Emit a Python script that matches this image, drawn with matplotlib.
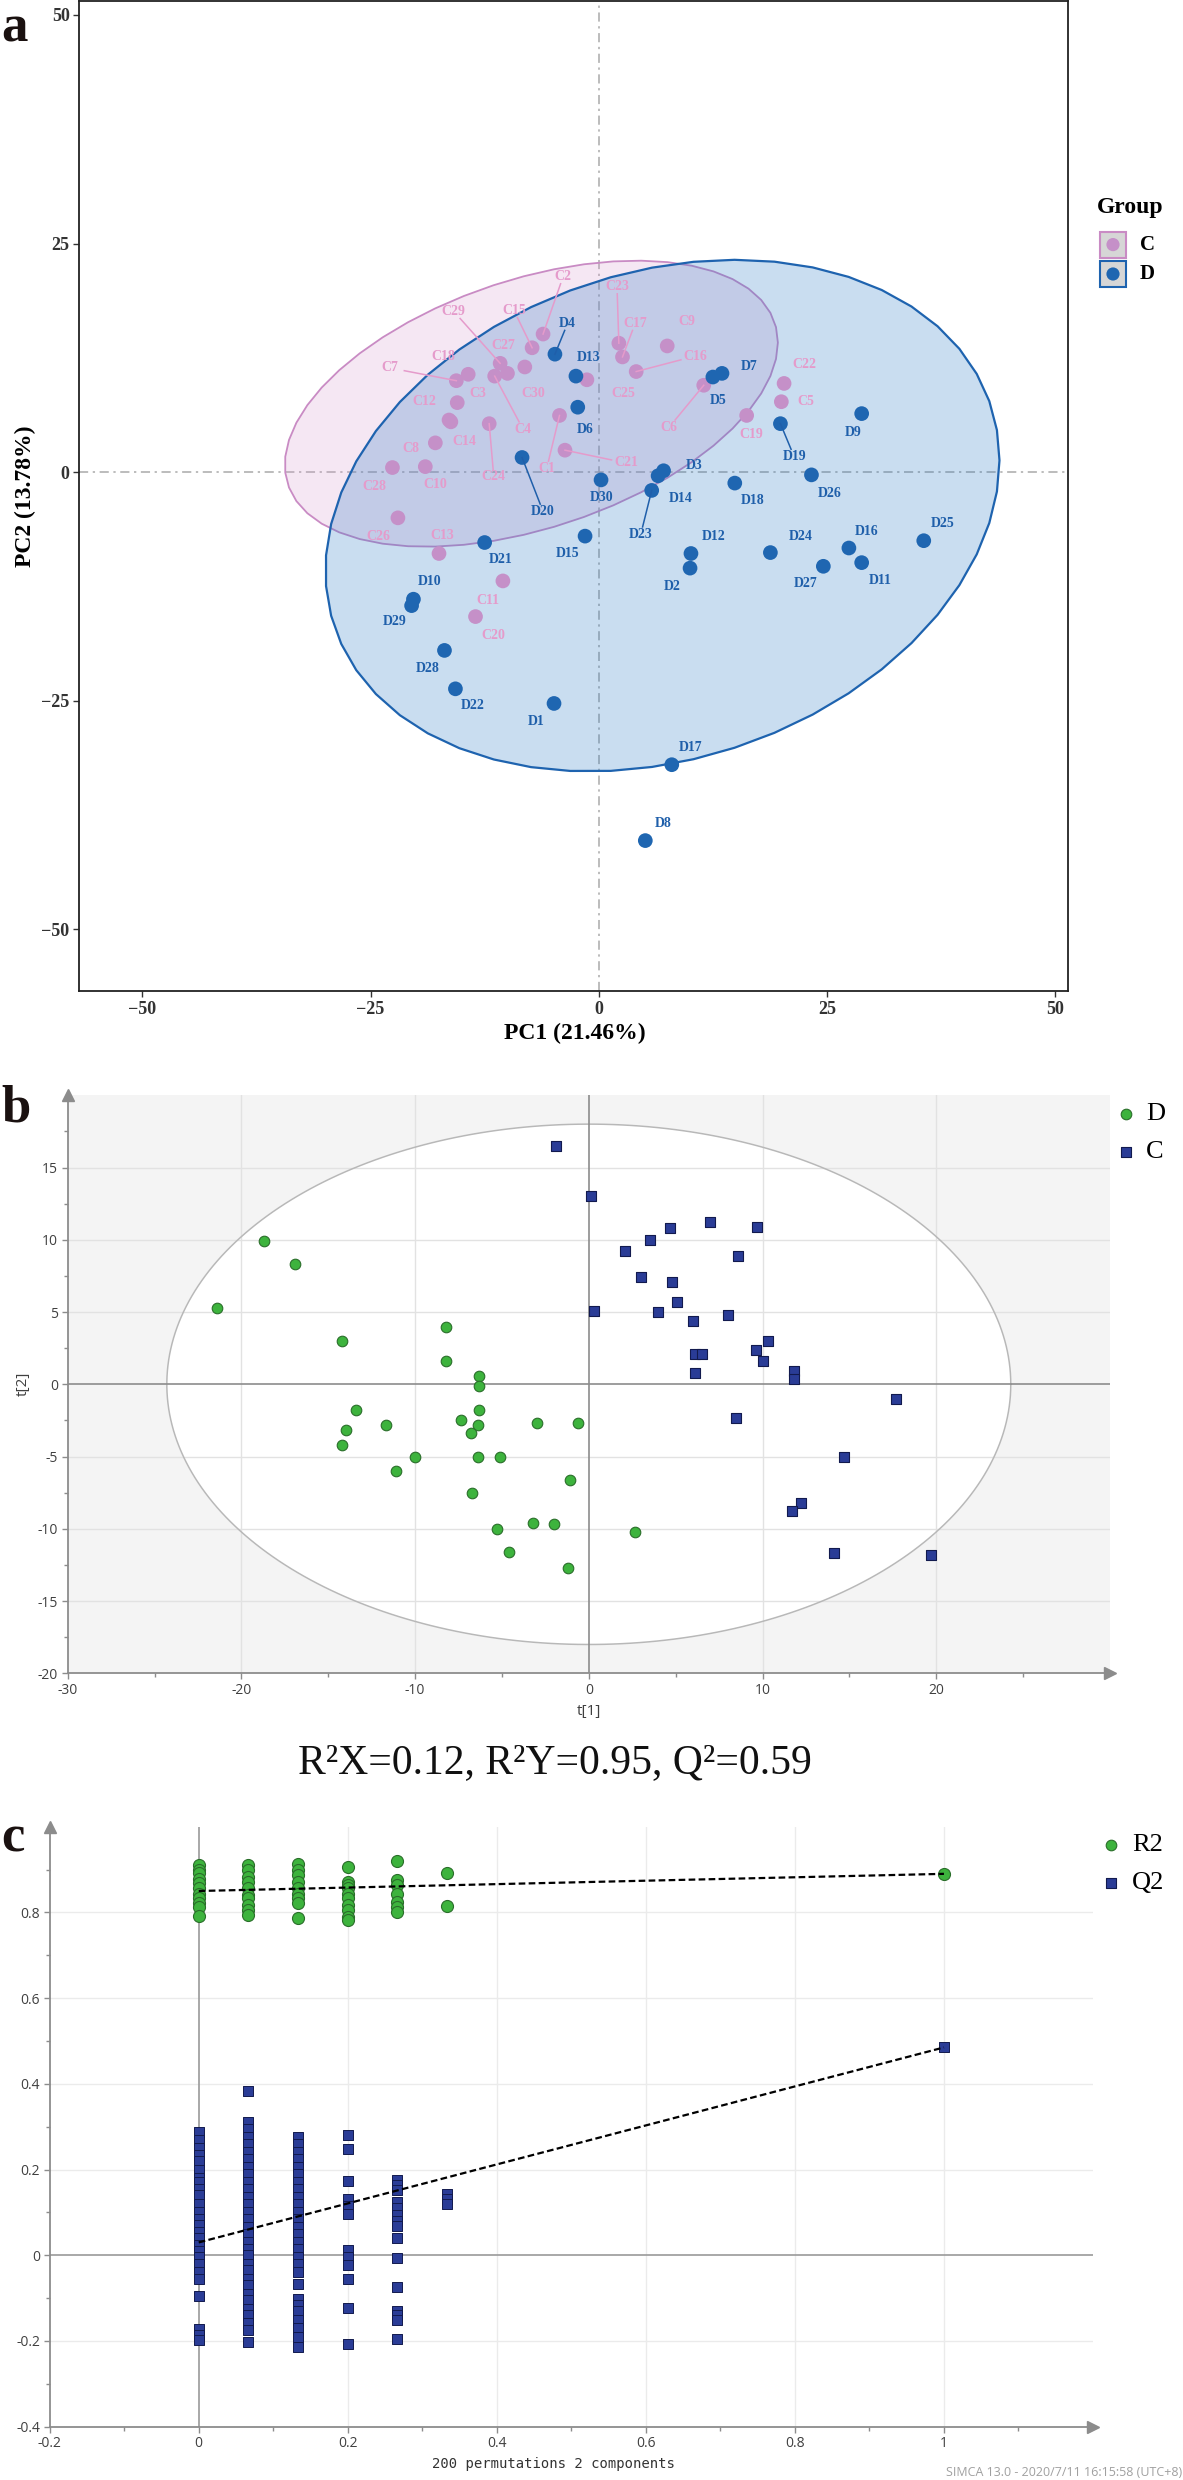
import numpy as np
import matplotlib
matplotlib.use("Agg")
import matplotlib.pyplot as plt
from matplotlib.patches import Polygon, Rectangle
from matplotlib.colors import to_rgba

W, H = 1183, 2480
SERIF = "Liberation Serif"
SANS = "Open Sans"
plt.rcParams["font.family"] = [SERIF, "DejaVu Sans"]

####################################################
# panel a : PCA scores (PC1, PC2) with sample names
c_names = ["C%d" % i for i in range(1, 31)]
c_pc1 = [-4.3, -6.1, -15.5, -11.4, 20.0, 11.5, -15.6, -17.9, 7.5, -19.0,
         -10.5, -16.4, -17.5, -16.2, -7.3, 4.1, 2.6, -14.3, 16.2, -13.5,
         -3.7, 20.3, 2.2, -12.0, -1.3, -22.0, -10.0, -22.6, -10.8, -8.1]
c_pc2 = [6.2, 15.1, 7.6, 10.5, 7.7, 9.5, 10.0, 3.2, 13.8, 0.6,
         -11.9, 5.7, -8.9, 5.5, 13.6, 11.0, 12.6, 10.7, 6.2, -15.8,
         2.4, 9.7, 14.1, 5.3, 10.1, -5.0, 10.8, 0.5, 11.9, 11.5]

d_names = ["D%d" % i for i in range(1, 31)]
d_pc1 = [-4.9, 10.0, 7.1, -4.8, 12.5, -2.3, 13.5, 5.1, 28.8, -20.3,
         28.8, 10.1, -2.5, 6.5, -1.5, 27.4, 8.0, 14.9, 19.9, -8.4,
         -12.5, -15.7, 5.8, 18.8, 35.6, 23.3, 24.6, -16.9, -20.5, 0.25]
d_pc2 = [-25.3, -10.5, 0.15, 12.9, 10.4, 7.1, 10.8, -40.3, 6.4, -13.9,
         -9.9, -8.9, 10.5, -0.4, -7.0, -8.3, -32.0, -1.2, 5.3, 1.6,
         -7.7, -23.7, -2.0, -8.8, -7.5, -0.3, -10.3, -19.5, -14.6, -0.85]

# where the repelled text labels sit (layout only)
c_lab_x = [-5.7, -3.9, -13.2, -8.3, 22.7, 7.7, -22.9, -20.6, 9.7, -17.9,
           -12.1, -19.1, -17.1, -14.7, -9.3, 10.6, 4.0, -17.0, 16.7, -11.6,
           3.0, 22.5, 2.0, -11.5, 2.7, -24.1, -10.5, -24.6, -15.9, -7.2]
c_lab_y = [0.4, 21.4, 8.6, 4.7, 7.7, 4.9, 11.4, 2.6, 16.5, -1.4,
           -14.0, 7.7, -6.9, 3.4, 17.7, 12.7, 16.3, 12.6, 4.1, -17.9,
           1.0, 11.8, 20.3, -0.5, 8.6, -7.0, 13.8, -1.6, 17.6, 8.6]
d_lab_x = [-6.9, 8.1, 10.4, -3.4, 13.1, -1.5, 16.5, 7.1, 27.9, -18.5,
           30.8, 12.6, -1.1, 9.0, -3.4, 29.3, 10.1, 16.9, 21.4, -6.1,
           -10.7, -13.8, 4.6, 22.1, 37.7, 25.3, 22.7, -18.7, -22.4, 0.3]
d_lab_y = [-27.3, -12.5, 0.7, 16.3, 7.8, 4.7, 11.6, -38.4, 4.3, -12.0,
           -11.9, -7.0, 12.5, -2.9, -8.9, -6.5, -30.1, -3.1, 1.7, -4.3,
           -9.6, -25.5, -6.8, -7.0, -5.6, -2.3, -12.2, -21.5, -16.3, -2.8]
with_segment = ["C1", "C2", "C4", "C6", "C7", "C15", "C16", "C17", "C21", "C23",
                "C24", "C29", "D4", "D19", "D20", "D23"]

####################################################
# panel b : OPLS-DA scores t[1], t[2]
d_t1 = [-18.7, -16.9, -21.4, -14.2, -8.2, -8.2, -6.3, -6.3, -13.4, -14.0,
        -14.2, -11.7, -6.35, -7.35, -6.4, -6.8, -3.0, -0.6, -10.0, -6.4,
        -5.1, -11.1, -1.1, -6.7, -5.3, -3.2, -2.0, 2.65, -4.6, -1.2]
d_t2 = [9.9, 8.3, 5.3, 3.0, 4.0, 1.6, 0.54, -0.13, -1.75, -3.15,
        -4.2, -2.8, -1.75, -2.5, -2.8, -3.4, -2.7, -2.7, -5.0, -5.0,
        -5.0, -6.0, -6.65, -7.5, -10.0, -9.6, -9.7, -10.2, -11.6, -12.7]
c_t1 = [-1.9, 0.1, 7.0, 4.7, 9.7, 3.5, 2.1, 8.6, 3.0, 4.8,
        0.3, 4.0, 5.1, 8.0, 6.0, 6.1, 6.5, 9.6, 10.3, 10.0,
        6.1, 11.8, 11.8, 17.7, 8.5, 14.7, 12.2, 11.7, 14.1, 19.7]
c_t2 = [16.5, 13.0, 11.2, 10.8, 10.9, 10.0, 9.2, 8.9, 7.4, 7.1,
        5.1, 5.0, 5.7, 4.8, 4.4, 2.1, 2.1, 2.4, 3.0, 1.6,
        0.8, 0.9, 0.4, -1.0, -2.3, -5.0, -8.2, -8.8, -11.7, -11.8]
model_text = "R\u00b2X=0.12, R\u00b2Y=0.95, Q\u00b2=0.59"

####################################################
# panel c : permutation test (200 permutations)
perm_x = [0.0, 0.0667, 0.1333, 0.2, 0.2667, 0.3333, 1.0]
r2_cols = [
    [0.910, 0.899, 0.891, 0.879, 0.868, 0.856, 0.844, 0.833, 0.821, 0.813, 0.792],
    [0.910, 0.899, 0.883, 0.872, 0.856, 0.840, 0.833, 0.817, 0.805, 0.794],
    [0.913, 0.899, 0.887, 0.872, 0.856, 0.844, 0.833, 0.821, 0.786],
    [0.907, 0.872, 0.864, 0.856, 0.844, 0.833, 0.817, 0.805, 0.790, 0.782],
    [0.920, 0.875, 0.864, 0.844, 0.825, 0.813, 0.802],
    [0.893, 0.816],
    [0.890],
]
q2_cols = [
    [0.288, 0.27, 0.25, 0.235, 0.22, 0.2, 0.18, 0.17, 0.155, 0.14, 0.12, 0.10,
     0.085, 0.07, 0.055, 0.04, 0.025, 0.01, -0.005, -0.02, -0.04, -0.056,
     -0.095, -0.171, -0.185, -0.197],
    [0.384, 0.311, 0.294, 0.275, 0.26, 0.24, 0.225, 0.205, 0.19, 0.17, 0.155,
     0.135, 0.12, 0.10, 0.085, 0.065, 0.05, 0.03, 0.015, 0.0, -0.02, -0.035,
     -0.055, -0.07, -0.09, -0.105, -0.125, -0.14, -0.157, -0.174, -0.202],
    [0.277, 0.26, 0.24, 0.225, 0.205, 0.19, 0.17, 0.155, 0.135, 0.12, 0.10,
     0.085, 0.065, 0.05, 0.03, 0.015, -0.005, -0.02, -0.039, -0.067,
     -0.101, -0.115, -0.129, -0.151, -0.17, -0.19, -0.213],
    [0.281, 0.247, 0.174, 0.131, 0.115, 0.097, 0.012, -0.005, -0.022,
     -0.056, -0.123, -0.206],
    [0.176, 0.163, 0.153, 0.125, 0.11, 0.095, 0.08, 0.068, 0.040, -0.007,
     -0.073, -0.129, -0.14, -0.151, -0.195],
    [0.144, 0.132, 0.119],
    [0.485],
]
r2_intercept = 0.85
q2_intercept = 0.03

F_29 = 3.328   # qf(0.95, 2, 29) for stat_ellipse, n = 30
F_58 = 3.156   # qf(0.95, 2, 58) for Hotelling T2, n = 60


def box(l, t, r, b):
    return [l / W, 1 - b / H, (r - l) / W, (b - t) / H]


def cov_trob(pts, nu=5, maxit=25, tol=0.01):
    # multivariate t robust estimate (as MASS::cov.trob used by stat_ellipse)
    n, p = pts.shape
    loc = pts.mean(axis=0)
    w = np.ones(n)
    for _ in range(maxit):
        w0 = w
        X = pts - loc
        sw = np.sqrt(w / w.sum())
        _, d, vt = np.linalg.svd(sw[:, None] * X, full_matrices=False)
        wX = X @ vt.T @ np.diag(1 / d)
        Q = (wX ** 2).sum(axis=1)
        w = (nu + p) / (nu + Q)
        loc = (w[:, None] * pts).sum(axis=0) / w.sum()
        if np.all(np.abs(w - w0) < tol):
            break
    sX = np.sqrt(w)[:, None] * X
    return loc, sX.T @ sX / n


def t_ellipse(x, y):
    pts = np.column_stack([x, y])
    loc, cov = cov_trob(pts)
    th = np.linspace(0, 2 * np.pi, 52)
    circ = np.column_stack([np.cos(th), np.sin(th)])
    U = np.linalg.cholesky(cov).T
    return loc + np.sqrt(2 * F_29) * circ @ U


def add_labels(ax, px, py, lx, ly, names, color):
    for x, y, tx, ty, nm in zip(px, py, lx, ly, names):
        ax.text(tx, ty, nm, ha="center", va="center", color=color,
                fontsize=10, fontweight="bold", zorder=6)
        if nm in with_segment:
            dx, dy = tx - x, ty - y
            t = min(1.6 / abs(dx) if dx else 1e9, 0.8 / abs(dy) if dy else 1e9)
            ax.plot([x, tx - t * dx], [y, ty - t * dy], color=color, lw=1.1, zorder=5)


def simca_frame(ax, xticks, xlabels, yticks, ylabels, xminor, yminor):
    for s in ["top", "right"]:
        ax.spines[s].set_visible(False)
    for s in ["left", "bottom"]:
        ax.spines[s].set_color("#8c8c8c")
        ax.spines[s].set_linewidth(1.3)
        ax.spines[s].set_zorder(4)
    ax.set_xticks(xticks)
    ax.set_xticklabels(xlabels)
    ax.set_yticks(yticks)
    ax.set_yticklabels(ylabels)
    ax.set_xticks(xminor, minor=True)
    ax.set_yticks(yminor, minor=True)
    ax.tick_params(which="major", length=4, width=1, color="#8c8c8c",
                   labelsize=10, labelcolor="#404040", pad=3)
    ax.tick_params(which="minor", length=3, width=1, color="#8c8c8c")
    for lbl in ax.get_xticklabels() + ax.get_yticklabels():
        lbl.set_fontfamily(SANS)
    ax.plot([0], [1], marker="^", ms=8, color="#8c8c8c", transform=ax.transAxes,
            clip_on=False, zorder=5)
    ax.plot([1], [0], marker=">", ms=8, color="#8c8c8c", transform=ax.transAxes,
            clip_on=False, zorder=5)


fig = plt.figure(figsize=(W / 100, H / 100), dpi=100)

####################################################
# panel a
pink, pink_txt, pink_edge = "#c590c8", "#e59bcb", "#c98bc4"
blue, blue_txt, blue_edge = "#1f66b1", "#1f5faa", "#1e63af"

axa = fig.add_axes(box(79.3, 0.7, 1068, 991))
axa.set_xlim(-56.9, 51.4)
axa.set_ylim(-56.75, 51.56)
axa.add_patch(Polygon(t_ellipse(c_pc1, c_pc2), closed=True,
                      facecolor=to_rgba("#d8a0d0", 0.25), edgecolor=pink_edge,
                      lw=1.3, zorder=2))
axa.add_patch(Polygon(t_ellipse(d_pc1, d_pc2), closed=True,
                      facecolor=to_rgba("#2b7bc4", 0.25), edgecolor=blue_edge,
                      lw=1.6, zorder=2))
axa.axhline(0, color="#aaaaaa", lw=1.1, ls=(0, (6, 3, 1.5, 3)), zorder=1)
axa.axvline(0, color="#aaaaaa", lw=1.1, ls=(0, (6, 3, 1.5, 3)), zorder=1)
axa.scatter(c_pc1, c_pc2, s=112, color=pink, edgecolor="none", zorder=3)
axa.scatter(d_pc1, d_pc2, s=112, color=blue, edgecolor="none", zorder=4)
add_labels(axa, c_pc1, c_pc2, c_lab_x, c_lab_y, c_names, pink_txt)
add_labels(axa, d_pc1, d_pc2, d_lab_x, d_lab_y, d_names, blue_txt)
axa.set_xticks([-50, -25, 0, 25, 50])
axa.set_yticks([-50, -25, 0, 25, 50])
axa.tick_params(length=4, width=1, color="#333333", labelsize=13,
                labelcolor="#333333", pad=3)
for lbl in axa.get_xticklabels() + axa.get_yticklabels():
    lbl.set_fontweight("bold")
for s in axa.spines.values():
    s.set_linewidth(1.3)
    s.set_color("#222222")

####################################################
# panel b
axb = fig.add_axes(box(67.7, 1095.3, 1109.9, 1673.3))
axb.set_xlim(-30, 30)
axb.set_ylim(-20, 20)
axb.set_facecolor("#f4f4f4")
t1 = np.array(d_t1 + c_t1)
t2 = np.array(d_t2 + c_t2)
n = len(t1)
t2crit = 2 * (n - 1) / (n - 2) * F_58
rx = np.sqrt(t2crit * (t1 ** 2).sum() / (n - 1))
ry = np.sqrt(t2crit * (t2 ** 2).sum() / (n - 1))
th = np.linspace(0, 2 * np.pi, 300)
axb.fill(rx * np.cos(th), ry * np.sin(th), color="white", zorder=0.5)
for gx in [-20, -10, 10, 20]:
    axb.axvline(gx, color="#e2e2e2", lw=1, zorder=0.8)
for gy in [-15, -10, -5, 5, 10, 15]:
    axb.axhline(gy, color="#e2e2e2", lw=1, zorder=0.8)
axb.plot(rx * np.cos(th), ry * np.sin(th), color="#b8b8b8", lw=1.1, zorder=1)
axb.axvline(0, color="#8c8c8c", lw=1.2, zorder=1.2)
axb.axhline(0, color="#8c8c8c", lw=1.2, zorder=1.2)
axb.scatter(d_t1, d_t2, s=58, marker="o", color="#3db33d",
            edgecolor="#2a6e2a", linewidth=0.8, zorder=3)
axb.scatter(c_t1, c_t2, s=50, marker="s", color="#2a3c96",
            edgecolor="#121a4e", linewidth=0.8, zorder=3)
simca_frame(axb, [-30, -20, -10, 0, 10, 20], ["-30", "-20", "-10", "0", "10", "20"],
            [-20, -15, -10, -5, 0, 5, 10, 15],
            ["-20", "-15", "-10", "-5", "0", "5", "10", "15"],
            [-25, -15, -5, 5, 15, 25],
            [-17.5, -12.5, -7.5, -2.5, 2.5, 7.5, 12.5, 17.5])

####################################################
# panel c
axc = fig.add_axes(box(49.7, 1826.7, 1093, 2426.7))
axc.set_xlim(-0.2, 1.2)
axc.set_ylim(-0.4, 1.0)
for gx in [0.2, 0.4, 0.6, 0.8, 1.0]:
    axc.axvline(gx, color="#ebebeb", lw=1, zorder=0.8)
for gy in [-0.2, 0.2, 0.4, 0.6, 0.8]:
    axc.axhline(gy, color="#ebebeb", lw=1, zorder=0.8)
axc.axvline(0, color="#9a9a9a", lw=1.2, zorder=1)
axc.axhline(0, color="#9a9a9a", lw=1.2, zorder=1)
for xv, col in zip(perm_x, q2_cols):
    axc.scatter([xv] * len(col), col, s=46, marker="s", color="#2a3c96",
                edgecolor="#121a4e", linewidth=0.7, zorder=3)
for xv, col in zip(perm_x, r2_cols):
    axc.scatter([xv] * len(col), col, s=75, marker="o", color="#3db33d",
                edgecolor="#2a6e2a", linewidth=0.8, zorder=3)
axc.plot([0, perm_x[-1]], [r2_intercept, r2_cols[-1][0]], color="black",
         lw=1.6, ls=(0, (3, 1.5)), zorder=4)
axc.plot([0, perm_x[-1]], [q2_intercept, q2_cols[-1][0]], color="black",
         lw=1.6, ls=(0, (3, 1.5)), zorder=4)
simca_frame(axc, [-0.2, 0, 0.2, 0.4, 0.6, 0.8, 1.0],
            ["-0.2", "0", "0.2", "0.4", "0.6", "0.8", "1"],
            [-0.4, -0.2, 0, 0.2, 0.4, 0.6, 0.8],
            ["-0.4", "-0.2", "0", "0.2", "0.4", "0.6", "0.8"],
            [-0.1, 0.1, 0.3, 0.5, 0.7, 0.9, 1.1],
            [-0.3, -0.1, 0.1, 0.3, 0.5, 0.7, 0.9])

####################################################
# texts, legends and panel letters (pixel layout)
ov = fig.add_axes([0, 0, 1, 1], zorder=10)
ov.set_xlim(0, W)
ov.set_ylim(H, 0)
ov.axis("off")

for letter, yb in [("a", 41.7), ("b", 1121), ("c", 1852)]:
    ov.text(1, yb, letter, fontsize=38, fontweight="bold", color="#1a1110",
            ha="left", va="baseline")

ov.text(575, 1033, "PC1 (21.46%)", fontsize=17, fontweight="bold",
        ha="center", va="center")
ov.text(25.7, 496, "PC2 (13.78%)", fontsize=17, fontweight="bold",
        ha="center", va="center", rotation=90)
ov.text(1097, 207, "Group", fontsize=17, fontweight="bold", ha="left", va="center")
for yc, edge, col, name in [(244.6, pink_edge, pink, "C"), (274, blue_edge, blue, "D")]:
    ov.add_patch(Rectangle((1100, yc - 13), 26, 26, facecolor="#d6d6d6",
                           edgecolor=edge, lw=1.5))
    ov.scatter([1113], [yc], s=90, color=col, edgecolor="none", zorder=3)
    ov.text(1140, yc, name, fontsize=15, fontweight="bold", ha="left", va="center")

ov.text(589, 1711, "t[1]", fontsize=11, color="#404040", family=SANS,
        ha="center", va="center")
ov.text(23, 1384, "t[2]", fontsize=11, color="#404040", family=SANS,
        ha="center", va="center", rotation=90)
ov.scatter([1126], [1114], s=58, marker="o", color="#3db33d",
           edgecolor="#2a6e2a", linewidth=0.8)
ov.text(1146, 1114, "D", fontsize=19, ha="left", va="center")
ov.scatter([1126], [1152], s=50, marker="s", color="#2a3c96",
           edgecolor="#121a4e", linewidth=0.8)
ov.text(1146, 1152, "C", fontsize=19, ha="left", va="center")

ov.text(555, 1773, model_text, fontsize=30, ha="center", va="baseline",
        color="#111111")

ov.scatter([1111], [1845], s=58, marker="o", color="#3db33d",
           edgecolor="#2a6e2a", linewidth=0.8)
ov.text(1132, 1845, "R2", fontsize=19, ha="left", va="center")
ov.scatter([1111], [1883], s=50, marker="s", color="#2a3c96",
           edgecolor="#121a4e", linewidth=0.8)
ov.text(1132, 1883, "Q2", fontsize=19, ha="left", va="center")

ov.text(553, 2464, "200 permutations 2 components", fontsize=10,
        family="DejaVu Sans Mono", color="#333333", ha="center", va="center")
ov.text(1182, 2472, "SIMCA 13.0 - 2020/7/11 16:15:58 (UTC+8)", fontsize=9,
        family=SANS, color="#a0a0a0", ha="right", va="center")

fig.savefig("out.png", dpi=100)
